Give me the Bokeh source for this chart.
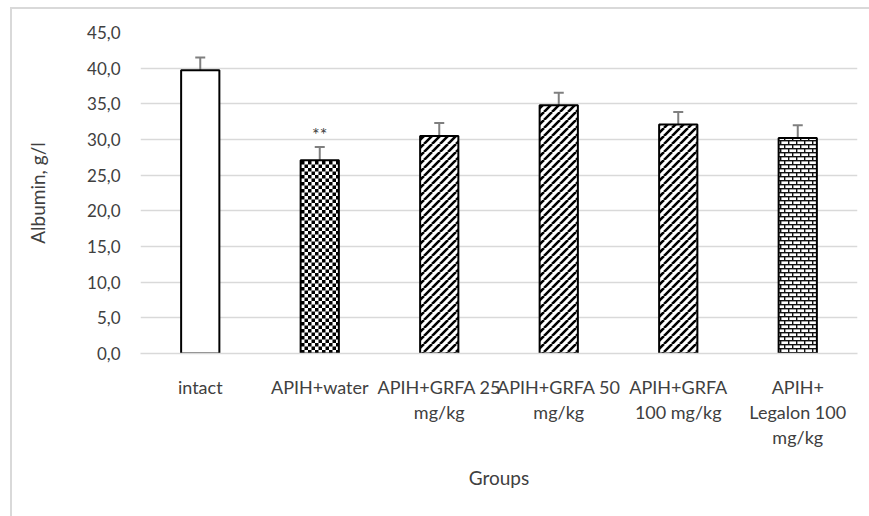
import base64
from bokeh.plotting import figure
from bokeh.models import (FactorRange, Range1d, FixedTicker, CustomJSTickFormatter,
                          ColumnDataSource, Whisker, TeeHead, ImageURLTexture, CategoricalAxis)
from bokeh.core.properties import value
from bokeh.embed import file_html
from bokeh.resources import INLINE

# ---- data ----
groups = ["intact", "APIH+water", "APIH+GRFA 25 mg/kg", "APIH+GRFA 50 mg/kg",
          "APIH+GRFA 100 mg/kg", "APIH+ Legalon 100 mg/kg"]
label_line1 = ["intact", "APIH+water", "APIH+GRFA 25", "APIH+GRFA 50", "APIH+GRFA", "APIH+"]
label_line2 = ["", "", "mg/kg", "mg/kg", "100 mg/kg", "Legalon 100"]
label_line3 = ["", "", "", "", "", "mg/kg"]
albumin = [39.7, 27.1, 30.5, 34.8, 32.1, 30.2]
albumin_err = [1.8, 1.85, 1.8, 1.75, 1.75, 1.8]
y_ticks = [0, 5, 10, 15, 20, 25, 30, 35, 40, 45]
marks = ["", "**", "", "", "", ""]
patterns = ["blank", "checker", "diag", "diag", "diag", "brick"]

FONT = "Lato"
TXT = "#404040"

def svg_uri(s):
    return "data:image/svg+xml;base64," + base64.b64encode(s.encode()).decode()

checker = ImageURLTexture(url=svg_uri(
    '<svg xmlns="http://www.w3.org/2000/svg" width="7" height="7">'
    '<rect width="7" height="7" fill="white"/>'
    '<rect width="3.5" height="3.5" fill="black"/>'
    '<rect x="3.5" y="3.5" width="3.5" height="3.5" fill="black"/></svg>'))
diag = ImageURLTexture(url=svg_uri(
    '<svg xmlns="http://www.w3.org/2000/svg" width="8" height="8">'
    '<rect width="8" height="8" fill="white"/>'
    '<path d="M-8,8 L0,0 M0,8 L8,0 M8,8 L16,0" stroke="black" stroke-width="2.6"/></svg>'))
brick = ImageURLTexture(url=svg_uri(
    '<svg xmlns="http://www.w3.org/2000/svg" width="8" height="8">'
    '<rect width="8" height="8" fill="white"/>'
    '<rect width="8" height="1.4" fill="#111"/><rect y="4" width="8" height="1.4" fill="#111"/>'
    '<rect width="1.4" height="4" fill="#111"/><rect x="4" y="4" width="1.4" height="4" fill="#111"/>'
    '</svg>'))

p = figure(width=869, height=516, x_range=FactorRange(factors=groups, range_padding=0),
           y_range=Range1d(0, 45), output_backend="svg", toolbar_location=None,
           min_border_left=140, min_border_right=12, min_border_top=32, min_border_bottom=163)
p.outline_line_color = None
p.background_fill_color = "white"
p.border_fill_alpha = 0
p.styles = {
    "background": ("linear-gradient(#d9d9d9, #d9d9d9) 10px 7px / 2px 100% no-repeat, "
                   "linear-gradient(#d9d9d9, #d9d9d9) 10px 7px / 100% 2px no-repeat"),
}

src_all = dict(g=groups, v=albumin, e=albumin_err,
               lo=[a - b for a, b in zip(albumin, albumin_err)],
               hi=[a + b for a, b in zip(albumin, albumin_err)], m=marks, pt=patterns)

def sub(kind):
    idx = [i for i, k in enumerate(patterns) if k == kind]
    return ColumnDataSource({k: [v[i] for i in idx] for k, v in src_all.items()})

W = 0.32
p.vbar(x="g", top="v", width=W, source=sub("blank"), fill_color="white",
       line_color="black", line_width=2)
for kind, tex in (("checker", checker), ("diag", diag), ("brick", brick)):
    p.vbar(x="g", top="v", width=W, source=sub(kind), fill_color="white",
           line_color="black", line_width=2, hatch_pattern=value(kind),
           hatch_extra={kind: tex})

src = ColumnDataSource(src_all)
w = Whisker(base="g", upper="hi", lower="lo", source=src, line_color="#7f7f7f", line_width=2,
            upper_head=TeeHead(size=10, line_color="#7f7f7f", line_width=2),
            lower_head=TeeHead(size=10, line_color="#7f7f7f", line_width=2))
p.add_layout(w)

p.text(x="g", y="hi", text="m", source=src, text_align="center", text_baseline="bottom",
       y_offset=-2, text_font=value(FONT), text_font_size="18px", text_color=TXT)

# axes
p.yaxis.ticker = FixedTicker(ticks=y_ticks)
p.yaxis.formatter = CustomJSTickFormatter(code="return tick.toFixed(1).replace('.', ',');")
p.yaxis.axis_line_color = None
p.yaxis.major_label_standoff = 14
p.yaxis.axis_label = "Albumin, g/l"
p.yaxis.axis_label_standoff = 35

def line_fmt(lines):
    return CustomJSTickFormatter(args=dict(f=groups, l=lines),
                                 code="const i = f.indexOf(tick); return i >= 0 ? l[i] : '';")

ax1 = p.xaxis[0]
ax1.formatter = line_fmt(label_line1)
ax1.axis_line_color = "#d9d9d9"
ax1.axis_line_width = 1.5
ax1.major_label_standoff = 16

ax2 = CategoricalAxis(formatter=line_fmt(label_line2), axis_line_color=None,
                      major_label_standoff=-6)
ax3 = CategoricalAxis(formatter=line_fmt(label_line3), axis_line_color=None,
                      major_label_standoff=-6, axis_label="Groups", axis_label_standoff=15)
p.add_layout(ax2, "below")
p.add_layout(ax3, "below")

for ax in (ax1, ax2, ax3, p.yaxis[0]):
    ax.major_tick_line_color = None
    ax.minor_tick_line_color = None
    ax.major_label_text_font = FONT
    ax.major_label_text_font_size = "17px" if ax is p.yaxis[0] else "18px"
    ax.major_label_text_color = TXT
    ax.axis_label_text_font = FONT
    ax.axis_label_text_font_size = "19px"
    ax.axis_label_text_font_style = "normal"
    ax.axis_label_text_color = TXT

p.xgrid.grid_line_color = None
p.ygrid.grid_line_color = "#d9d9d9"
p.ygrid.grid_line_width = 1.5

open("out.html", "w").write(file_html(p, INLINE))
